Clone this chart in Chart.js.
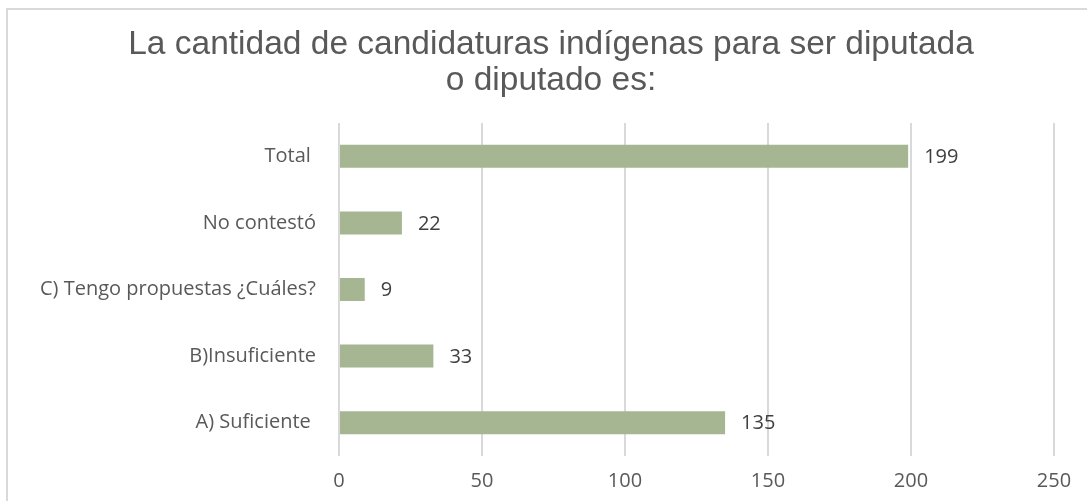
<!DOCTYPE html>
<html>
<head>
<meta charset="utf-8">
<script src="https://cdn.jsdelivr.net/npm/chart.js@4/dist/chart.umd.min.js"></script>
<style>
  html, body { margin: 0; padding: 0; background: #ffffff; overflow: hidden; }
  canvas { display: block; }
</style>
</head>
<body>
<canvas id="c" width="1087" height="501"></canvas>
<script>
const titleLines = ["La cantidad de candidaturas indígenas para ser diputada", "o diputado es:"];
const categories = ["Total ", "No contestó", "C) Tengo propuestas ¿Cuáles?", "B)Insuficiente", "A) Suficiente "];
const values = [199, 22, 9, 33, 135];
const xTicks = [0, 50, 100, 150, 200, 250];

const labelFont = { family: "'Open Sans', sans-serif", size: 20 };
const titleFont = "normal 33.5px 'Liberation Sans', Arial, sans-serif";

const frame = {
  id: 'frame',
  beforeDraw(chart) {
    const ctx = chart.ctx;
    ctx.save();
    ctx.strokeStyle = '#d9d9d9';
    ctx.lineWidth = 2;
    ctx.beginPath();
    ctx.moveTo(7, chart.height + 5);
    ctx.lineTo(7, 9);
    ctx.lineTo(chart.width + 5, 9);
    ctx.stroke();
    ctx.restore();
  }
};

const titleText = {
  id: 'titleText',
  afterDraw(chart) {
    const ctx = chart.ctx;
    ctx.save();
    ctx.font = titleFont;
    ctx.fillStyle = '#595959';
    ctx.textAlign = 'center';
    ctx.textBaseline = 'middle';
    titleLines.forEach((line, i) => ctx.fillText(line, 551, 45 + i * 35.5));
    ctx.restore();
  }
};

const valueLabels = {
  id: 'valueLabels',
  afterDatasetsDraw(chart) {
    const ctx = chart.ctx;
    const meta = chart.getDatasetMeta(0);
    ctx.save();
    ctx.font = labelFont.size + "px " + labelFont.family;
    ctx.fillStyle = '#404040';
    ctx.textAlign = 'left';
    ctx.textBaseline = 'middle';
    meta.data.forEach((bar, i) => {
      ctx.fillText(String(values[i]), bar.x + 16, bar.y + 1);
    });
    ctx.restore();
  }
};

new Chart(document.getElementById('c'), {
  type: 'bar',
  data: {
    labels: categories,
    datasets: [{
      data: values,
      backgroundColor: '#a6b592',
      borderWidth: 0,
      barPercentage: 0.345,
      categoryPercentage: 1.0
    }]
  },
  options: {
    indexAxis: 'y',
    responsive: false,
    animation: false,
    devicePixelRatio: 1,
    layout: { padding: { left: 0, right: 33, top: 123, bottom: 0 } },
    plugins: {
      legend: { display: false },
      tooltip: { enabled: false },
      title: { display: false }
    },
    scales: {
      x: {
        min: 0,
        max: 250,
        afterBuildTicks(axis) { axis.ticks = xTicks.map(v => ({ value: v })); },
        afterFit(axis) { axis.height = 45; },
        grid: { color: '#d9d9d9', lineWidth: 2, drawTicks: false },
        border: { display: false },
        ticks: { color: '#595959', font: labelFont, padding: 13 }
      },
      y: {
        afterFit(axis) { axis.width = 339; },
        grid: { display: false },
        border: { display: false },
        ticks: { color: '#595959', font: labelFont, padding: 15 }
      }
    }
  },
  plugins: [frame, titleText, valueLabels]
});
</script>
</body>
</html>
